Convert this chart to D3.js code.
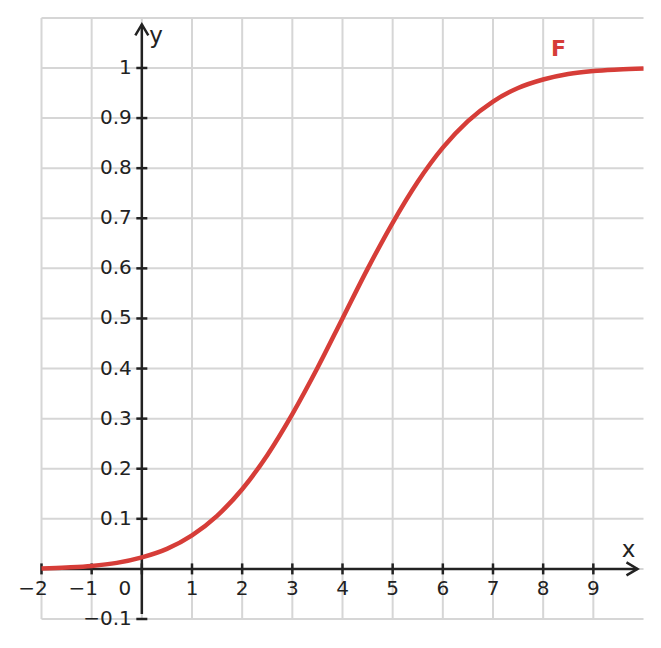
<!DOCTYPE html>
<html>
<head>
<meta charset="utf-8">
<script src="https://cdn.jsdelivr.net/npm/d3@7"></script>
<style>
  body { margin: 0; background: #fff; }
  svg { display: block; font-family: "DejaVu Sans", sans-serif; }
</style>
</head>
<body>
<svg id="chart"></svg>
<script>
// values
const xValues = [-2, -1.5, -1, -0.5, 0, 0.5, 1, 1.5, 2, 2.5, 3, 3.5, 4, 4.5, 5, 5.5, 6, 6.5, 7, 7.5, 8, 8.5, 9, 9.5, 10];
const fValues = [0.001, 0.003, 0.006, 0.012, 0.023, 0.040, 0.067, 0.106, 0.159, 0.227, 0.309, 0.401, 0.5, 0.599, 0.691, 0.773, 0.841, 0.894, 0.933, 0.960, 0.977, 0.988, 0.994, 0.997, 0.999];
const xTicks = [-2, -1, 0, 1, 2, 3, 4, 5, 6, 7, 8, 9];
const yTicks = [-0.1, 0.1, 0.2, 0.3, 0.4, 0.5, 0.6, 0.7, 0.8, 0.9, 1];
const xGrid = [-2, -1, 0, 1, 2, 3, 4, 5, 6, 7, 8, 9];
const yGrid = [-0.1, 0, 0.1, 0.2, 0.3, 0.4, 0.5, 0.6, 0.7, 0.8, 0.9, 1, 1.1];
const seriesName = "F";

const width = 661, height = 648;
const svg = d3.select("#chart").attr("width", width).attr("height", height);

const x = d3.scaleLinear().domain([-2, 10]).range([41.5, 643.5]);
const y = d3.scaleLinear().domain([-0.1, 1.1]).range([619, 17.9]);

const gridColor = "#d6d6d6";
const axisColor = "#222";
const red = "#d63d38";

// grid
svg.append("g").selectAll("line").data(xGrid).enter().append("line")
  .attr("x1", d => x(d)).attr("x2", d => x(d))
  .attr("y1", y(-0.1)).attr("y2", y(1.1))
  .attr("stroke", gridColor).attr("stroke-width", 2);
svg.append("g").selectAll("line").data(yGrid).enter().append("line")
  .attr("x1", x(-2)).attr("x2", x(10))
  .attr("y1", d => y(d)).attr("y2", d => y(d))
  .attr("stroke", gridColor).attr("stroke-width", 2);

// axes lines
const ax = svg.append("g").attr("stroke", axisColor).attr("stroke-width", 2.5).attr("fill", "none");
ax.append("line").attr("x1", x(-2)).attr("x2", x(9.88)).attr("y1", y(0)).attr("y2", y(0));
ax.append("line").attr("x1", x(0)).attr("x2", x(0)).attr("y1", y(-0.09)).attr("y2", y(1.087));
// arrow heads
const xe = x(9.88), ye = y(1.087);
ax.append("path").attr("d", `M${xe - 11},${y(0) - 6.5} L${xe},${y(0)} L${xe - 11},${y(0) + 6.5}`)
  .attr("stroke-linejoin", "miter");
ax.append("path").attr("d", `M${x(0) - 6.5},${ye + 11} L${x(0)},${ye} L${x(0) + 6.5},${ye + 11}`)
  .attr("stroke-linejoin", "miter");

// ticks
ax.append("g").selectAll("line").data(xTicks).enter().append("line")
  .attr("x1", d => x(d)).attr("x2", d => x(d))
  .attr("y1", y(0) - 5.5).attr("y2", y(0) + 5.5);
ax.append("g").selectAll("line").data(yTicks).enter().append("line")
  .attr("x1", x(0) - 5.5).attr("x2", x(0) + 5.5)
  .attr("y1", d => y(d)).attr("y2", d => y(d));

const fmt = d => (d < 0 ? "\u2212" : "") + Math.abs(d).toString();

// tick labels (digits centred on the tick, minus sign hangs left)
svg.append("g").selectAll("text").data(xTicks).enter().append("text")
  .attr("x", d => d === 0 ? x(d) - 17 : d < 0 ? x(d) - 8.5 : x(d))
  .attr("y", y(0) + 26.5)
  .attr("text-anchor", "middle")
  .attr("font-size", 20).attr("fill", axisColor)
  .text(fmt);
svg.append("g").selectAll("text").data(yTicks).enter().append("text")
  .attr("x", x(0) - 10)
  .attr("y", d => y(d) + 6)
  .attr("text-anchor", "end")
  .attr("font-size", 20).attr("fill", axisColor)
  .text(fmt);

// axis names
svg.append("text").attr("x", x(0) + 7.5).attr("y", 42.5)
  .attr("font-size", 23).attr("fill", axisColor).text("y");
svg.append("text").attr("x", 628.5).attr("y", 556.5)
  .attr("text-anchor", "middle")
  .attr("font-size", 23).attr("fill", axisColor).text("x");

// curve
const pts = xValues.map((v, i) => [v, fValues[i]]);
svg.append("path").datum(pts)
  .attr("fill", "none").attr("stroke", red).attr("stroke-width", 4.5)
  .attr("d", d3.line().x(d => x(d[0])).y(d => y(d[1])).curve(d3.curveMonotoneX));

svg.append("text").attr("x", 558.5).attr("y", 56)
  .attr("text-anchor", "middle").attr("font-size", 22).attr("font-weight", "bold")
  .attr("fill", red).text(seriesName);
</script>
</body>
</html>
